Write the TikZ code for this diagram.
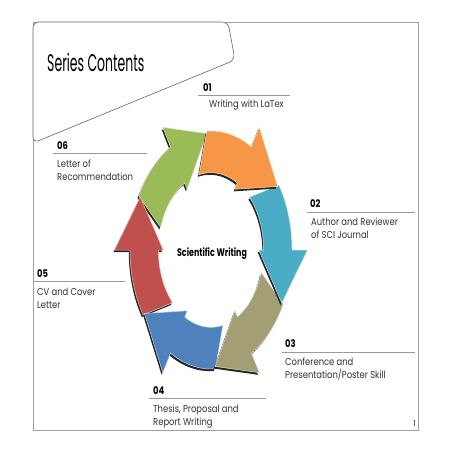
\documentclass[tikz,border=0pt]{standalone}
\usepackage{fontspec}
\setmainfont{Poppins}
\newfontfamily\labf[FakeStretch=0.84]{Poppins}
\newfontfamily\titf[FakeStretch=0.52]{Poppins}
\newfontfamily\numf[FakeStretch=0.8]{Poppins}
\newfontfamily\cenf[FakeStretch=0.72]{Poppins}
\definecolor{corange}{HTML}{F79646}
\definecolor{cteal}{HTML}{4BACC6}
\definecolor{ctan}{HTML}{A39E74}
\definecolor{cblue}{HTML}{4F81BD}
\definecolor{cred}{HTML}{C0504D}
\definecolor{cgreen}{HTML}{9BBB59}
\definecolor{frame}{HTML}{A0A0A0}
\definecolor{rulec}{HTML}{9A9A9A}
\definecolor{txt}{HTML}{333333}
\newcommand\arrowpath{(\aso:1) -- plot[domain=\aso:\ab, samples=30, variable=\t] ({cos(\t)},{sin(\t)}) -- (\ab:1.19) -- (\at:0.98) -- (\ab:0.59) -- plot[domain=\ab:\asi, samples=30, variable=\t] ({0.65*cos(\t)},{0.65*sin(\t)}) -- cycle}
\newcommand\cycarrow[2]{%
  \pgfmathsetmacro\ab{#2}%
  \pgfmathsetmacro\aso{#2+33}%
  \pgfmathsetmacro\asi{#2+43}%
  \pgfmathsetmacro\at{#2-27}%
  \fill[black!85, shift={(-0.015,-0.018)}] \arrowpath;
  \fill[#1, draw=white!65!#1, line width=0.5pt] \arrowpath;
}
\begin{document}
\begin{tikzpicture}[x=1pt,y=-1pt,
  numtxt/.style={anchor=base west, inner sep=0pt, font=\numf\bfseries\fontsize{10.5}{12}\selectfont, text=black},
  labtxt/.style={anchor=base west, inner sep=0pt, font=\labf\fontsize{10}{12}\selectfont, text=txt},
  labrule/.style={draw=rulec, line width=0.6pt}]
\useasboundingbox (0,0) rectangle (452,452);
\fill[white] (0,0) rectangle (452,452);
\draw[frame, line width=0.9pt] (33,22) rectangle (418,430);
\draw[black!60, line width=0.6pt, rounded corners=6pt, fill=white] (33,22) -- (228,22) -- (235,60) -- (33,143) -- cycle;
\node (title) [anchor=base west, inner sep=0pt, font=\titf\fontsize{24}{28}\selectfont, text=black] at (47,71) {Series Contents};

\begin{scope}[shift={(211,250)}, x=81pt, y=119pt]
  \cycarrow{cgreen}{120}
  \cycarrow{cred}{180}
  \cycarrow{cblue}{240}
  \cycarrow{ctan}{300}
  \cycarrow{cteal}{360}
  \cycarrow{corange}{420}
\end{scope}

\node (center) [anchor=base, inner sep=0pt, font=\cenf\bfseries\fontsize{11}{13}\selectfont] at (212,256) {Scientific Writing};

% 01
\node (n1) [numtxt] at (203,91.5) {01};
\coordinate (r1a) at (198,95.5); \coordinate (r1b) at (290,95.5);
\draw[labrule] (r1a) -- (r1b);
\node (t1) [labtxt] at (209,107.5) {Writing with LaTex};
% 02
\node (n2) [numtxt] at (310,207) {02};
\coordinate (r2a) at (307,212); \coordinate (r2b) at (415,212);
\draw[labrule] (r2a) -- (r2b);
\node (t2a) [labtxt] at (311,225) {Author and Reviewer};
\node (t2b) [labtxt] at (311,238.5) {of SCI Journal};
% 03
\node (n3) [numtxt] at (285,347) {03};
\coordinate (r3a) at (282,352); \coordinate (r3b) at (415,352);
\draw[labrule] (r3a) -- (r3b);
\node (t3a) [labtxt] at (285,365) {Conference and};
\node (t3b) [labtxt] at (285,378.5) {Presentation/Poster Skill};
% 04
\node (n4) [numtxt] at (153,394) {04};
\coordinate (r4a) at (149,398); \coordinate (r4b) at (266,398);
\draw[labrule] (r4a) -- (r4b);
\node (t4a) [labtxt] at (153,412) {Thesis, Proposal and};
\node (t4b) [labtxt] at (153,425.5) {Report Writing};
% 05
\node (n5) [numtxt] at (37,277) {05};
\coordinate (r5a) at (33,281); \coordinate (r5b) at (125,281);
\draw[labrule] (r5a) -- (r5b);
\node (t5a) [labtxt] at (37,295) {CV and Cover};
\node (t5b) [labtxt] at (37,308.5) {Letter};
% 06
\node (n6) [numtxt] at (57,149) {06};
\coordinate (r6a) at (53,153); \coordinate (r6b) at (147,153);
\draw[labrule] (r6a) -- (r6b);
\node (t6a) [labtxt] at (57,167) {Letter of};
\node (t6b) [labtxt] at (57,180.5) {Recommendation};

\node (page) [anchor=base east, inner sep=0pt, font=\labf\fontsize{8}{9}\selectfont] at (416,426) {1};
\end{tikzpicture}
\end{document}
